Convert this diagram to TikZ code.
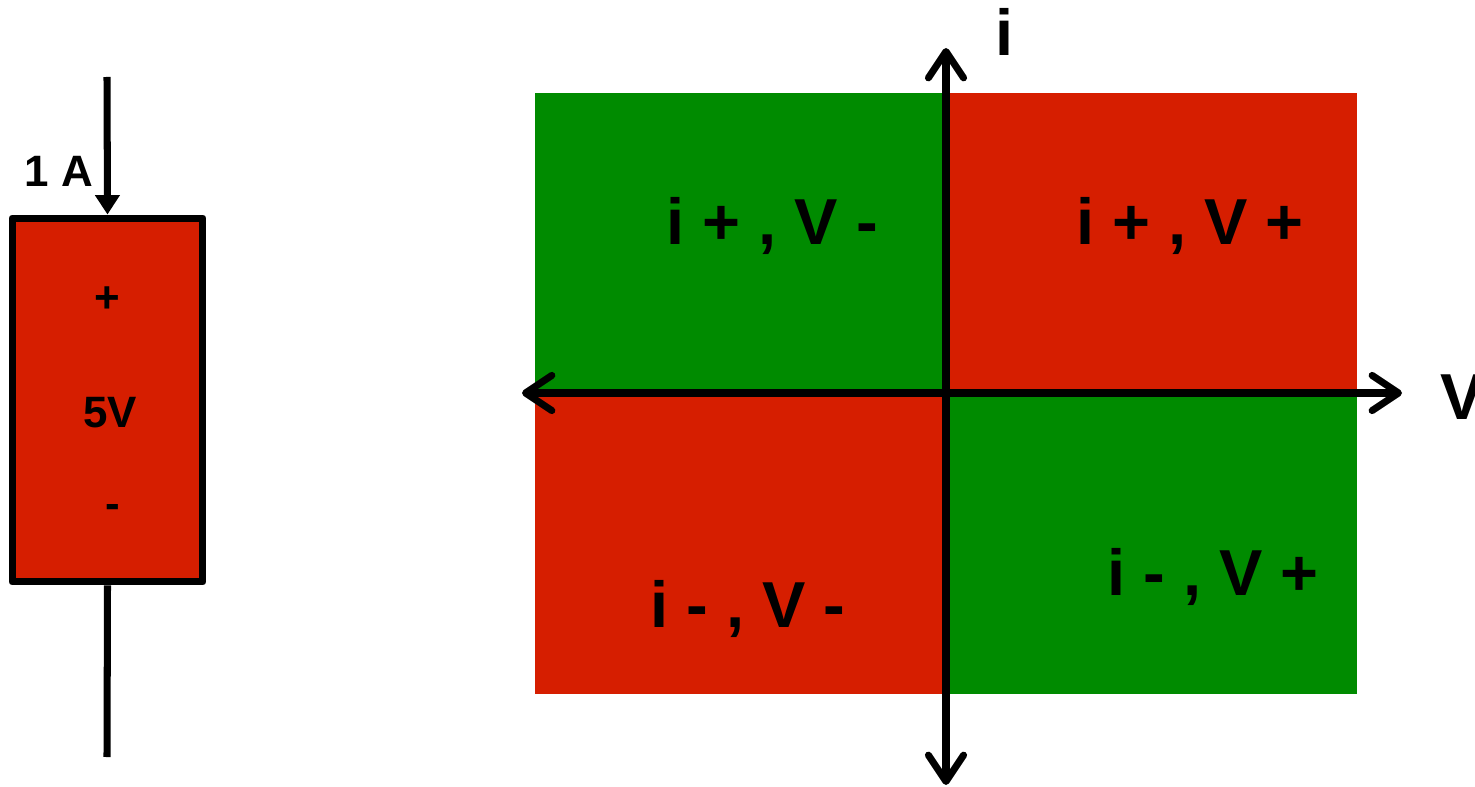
\documentclass[tikz,border=0pt]{standalone}
\usepackage{fontspec}
\setmainfont{Liberation Sans}
\usetikzlibrary{arrows.meta}
\definecolor{quadred}{RGB}{214,30,0}
\definecolor{quadgreen}{RGB}{0,139,0}

\begin{document}
\begin{tikzpicture}[x=0.02cm, y=-0.02cm,
    lbl/.style={inner sep=0pt, font=\bfseries\fontsize{25}{25}\selectfont},
    qlbl/.style={inner sep=0pt, anchor=base, font=\bfseries\fontsize{37}{37}\selectfont},
    wire/.style={line width=4pt},
    axis/.style={line width=4pt, {Straight Barb[length=15pt,width=20pt,line cap=round,line join=round]}-{Straight Barb[length=15pt,width=20pt,line cap=round,line join=round]}}]
    \useasboundingbox (0,0) rectangle (1475,787);

    % Source element
    \node[draw, wire, fill=quadred, line join=round, minimum width=3.82cm, minimum height=7.28cm] (cell) at (107.5,400) {};
    \coordinate (wtop) at (107,77);
    \coordinate (wbot) at (107,757);
    \draw[wire, -{Triangle[length=11pt,width=13.5pt]}] (wtop) -- (cell.north);
    \draw[wire] (cell.south) -- (wbot);
    \node[lbl, anchor=base] (cur) at (59,187) {1 A};
    \node[lbl] (plus) at (107,300) {+};
    \node[lbl, anchor=base] (volt) at (110,427) {5V};
    \node[lbl] (minus) at (113,511) {-};

    % Quadrants
    \fill[quadgreen] (535,93) rectangle (946,393);
    \fill[quadred] (946,93) rectangle (1357,393);
    \fill[quadred] (535,393) rectangle (946,694);
    \fill[quadgreen] (946,393) rectangle (1357,694);

    % Axes
    \coordinate (itop) at (946,48);
    \coordinate (ibot) at (946,785);
    \coordinate (vleft) at (522,393);
    \coordinate (vright) at (1402,393);
    \draw[axis] (vleft) -- (vright);
    \draw[axis] (ibot) -- (itop);
    \node[qlbl] (ilbl) at (1005,56) {i};
    \node[qlbl, anchor=base west] (vlbl) at (1440,419) {V};

    \node[qlbl] (q2) at (772,245) {i + , V -};
    \node[qlbl] (q1) at (1190,245) {i + , V +};
    \node[qlbl] (q3) at (748,627) {i - , V -};
    \node[qlbl] (q4) at (1213,595) {i - , V +};
\end{tikzpicture}
\end{document}
